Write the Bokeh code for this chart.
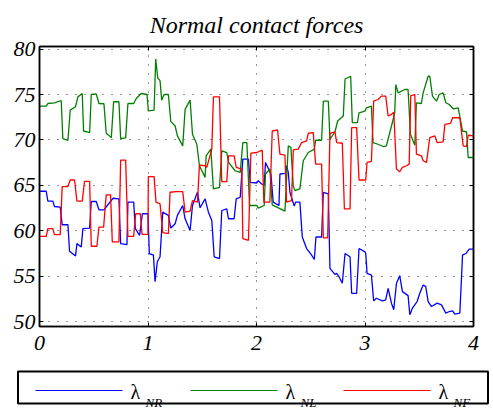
from bokeh.plotting import figure
from bokeh.models import FixedTicker, LinearAxis
from bokeh.core.properties import value
from bokeh.embed import file_html
from bokeh.resources import INLINE

# ---------------- data (time in s, force) ----------------
t_nr = [0.000, 0.062, 0.077, 0.123, 0.138, 0.191, 0.209, 0.262, 0.277, 0.332, 0.345, 0.385, 0.400, 0.462,
        0.477, 0.523, 0.548, 0.594, 0.677, 0.732, 0.748, 0.806, 0.815, 0.868, 0.883, 0.923, 0.948, 1.000,
        1.012, 1.050, 1.065, 1.086, 1.111, 1.136, 1.188, 1.210, 1.250, 1.271, 1.320, 1.342, 1.388, 1.410,
        1.456, 1.480, 1.526, 1.557, 1.588, 1.610, 1.659, 1.680, 1.726, 1.742, 1.794, 1.813, 1.850, 1.874,
        1.926, 1.942, 2.003, 2.016, 2.047, 2.071, 2.083, 2.133, 2.154, 2.207, 2.216, 2.268, 2.277, 2.293,
        2.308, 2.348, 2.360, 2.400, 2.422, 2.462, 2.508, 2.533, 2.548, 2.600, 2.616, 2.662, 2.677, 2.723,
        2.739, 2.760, 2.791, 2.816, 2.862, 2.877, 2.923, 2.945, 3.000, 3.007, 3.019, 3.059, 3.080, 3.105,
        3.160, 3.191, 3.213, 3.244, 3.265, 3.290, 3.320, 3.345, 3.397, 3.413, 3.437, 3.480, 3.505, 3.536,
        3.560, 3.582, 3.613, 3.665, 3.705, 3.745, 3.776, 3.807, 3.828, 3.874, 3.899, 3.930, 3.960, 4.000]
f_nr = [64.35, 64.35, 63.26, 63.26, 62.67, 62.60, 60.66, 60.66, 57.75, 57.23, 58.58, 58.22, 60.23, 60.30,
        63.22, 63.22, 62.31, 62.31, 63.58, 63.51, 58.58, 58.47, 63.15, 63.15, 60.23, 59.50, 61.87, 61.87,
        57.49, 57.31, 54.39, 56.58, 57.13, 62.05, 61.69, 60.30, 60.77, 61.69, 62.78, 61.32, 60.04, 62.78,
        64.24, 62.53, 63.51, 62.05, 61.14, 57.13, 56.94, 62.23, 62.42, 61.32, 61.32, 63.51, 63.69, 67.89,
        67.89, 65.34, 65.26, 65.52, 65.15, 65.04, 67.53, 66.25, 63.15, 62.78, 66.25, 66.32, 67.16, 66.43,
        64.24, 62.71, 63.15, 63.15, 59.31, 58.04, 57.31, 56.83, 59.31, 59.31, 64.24, 64.06, 55.85, 55.19,
        55.30, 54.94, 54.21, 57.49, 57.13, 53.11, 53.11, 58.04, 57.67, 57.49, 55.30, 55.12, 52.27, 52.56,
        52.27, 52.38, 53.66, 52.02, 51.29, 54.21, 55.05, 53.29, 52.85, 50.74, 51.47, 52.20, 53.11, 54.02,
        53.84, 52.20, 51.65, 52.02, 51.83, 50.92, 51.10, 51.18, 50.81, 50.92, 57.31, 57.49, 57.97, 57.97]

t_nl = [0.000, 0.062, 0.077, 0.138, 0.200, 0.215, 0.262, 0.283, 0.332, 0.354, 0.394, 0.406, 0.462, 0.477,
        0.523, 0.548, 0.594, 0.615, 0.662, 0.683, 0.732, 0.748, 0.794, 0.815, 0.868, 0.892, 0.938, 0.991,
        1.003, 1.056, 1.071, 1.090, 1.111, 1.126, 1.148, 1.188, 1.210, 1.250, 1.271, 1.320, 1.342, 1.388,
        1.410, 1.450, 1.474, 1.526, 1.536, 1.579, 1.603, 1.659, 1.680, 1.726, 1.742, 1.803, 1.850, 1.874,
        1.911, 1.936, 2.003, 2.016, 2.071, 2.083, 2.123, 2.145, 2.262, 2.293, 2.317, 2.339, 2.354, 2.400,
        2.431, 2.477, 2.533, 2.545, 2.600, 2.616, 2.662, 2.677, 2.723, 2.748, 2.800, 2.816, 2.868, 2.883,
        2.930, 2.945, 3.000, 3.013, 3.059, 3.074, 3.120, 3.167, 3.197, 3.244, 3.274, 3.284, 3.305, 3.367,
        3.397, 3.419, 3.459, 3.474, 3.520, 3.536, 3.582, 3.597, 3.622, 3.659, 3.684, 3.720, 3.745, 3.776,
        3.813, 3.859, 3.899, 3.936, 3.951, 4.000]
f_nl = [73.73, 73.73, 74.02, 74.10, 74.35, 70.15, 69.97, 73.29, 73.66, 74.75, 75.12, 70.99, 70.81, 75.01,
        75.08, 74.02, 73.99, 70.74, 70.26, 74.21, 74.21, 70.15, 70.23, 74.02, 74.02, 74.57, 75.12, 75.01,
        73.20, 73.29, 78.91, 76.83, 76.54, 74.39, 75.01, 75.01, 72.05, 71.54, 70.45, 69.35, 73.37, 74.39,
        70.63, 69.53, 67.16, 65.88, 68.26, 68.99, 64.61, 64.79, 68.80, 68.62, 67.53, 66.61, 66.43, 69.72,
        69.72, 62.78, 62.78, 62.49, 62.78, 66.25, 66.80, 62.85, 62.16, 69.35, 69.17, 64.97, 64.42, 64.61,
        67.71, 68.62, 68.99, 69.97, 69.97, 74.28, 74.28, 70.08, 70.88, 72.09, 72.64, 76.72, 77.02, 71.91,
        71.91, 73.00, 73.18, 73.55, 73.73, 69.72, 69.53, 69.28, 69.35, 71.54, 73.00, 76.10, 75.19, 75.56,
        75.56, 70.63, 69.42, 74.10, 74.02, 75.19, 77.02, 77.02, 74.83, 74.28, 75.01, 75.19, 74.10, 73.91,
        73.44, 73.55, 70.99, 70.88, 68.07, 68.07]

t_nf = [0.000, 0.062, 0.077, 0.123, 0.138, 0.191, 0.209, 0.262, 0.283, 0.323, 0.345, 0.394, 0.415, 0.462,
        0.477, 0.529, 0.548, 0.591, 0.615, 0.655, 0.671, 0.732, 0.748, 0.794, 0.815, 0.868, 0.886, 0.929,
        0.945, 1.000, 1.003, 1.056, 1.074, 1.111, 1.136, 1.188, 1.203, 1.259, 1.320, 1.342, 1.388, 1.410,
        1.456, 1.474, 1.526, 1.542, 1.588, 1.603, 1.659, 1.680, 1.726, 1.742, 1.794, 1.813, 1.865, 1.874,
        1.926, 1.948, 2.003, 2.053, 2.068, 2.123, 2.145, 2.194, 2.216, 2.262, 2.277, 2.323, 2.339, 2.385,
        2.416, 2.462, 2.477, 2.523, 2.545, 2.600, 2.616, 2.656, 2.677, 2.723, 2.739, 2.791, 2.810, 2.862,
        2.877, 2.923, 2.945, 3.007, 3.019, 3.059, 3.080, 3.120, 3.151, 3.191, 3.213, 3.244, 3.265, 3.290,
        3.320, 3.345, 3.382, 3.407, 3.422, 3.459, 3.474, 3.520, 3.536, 3.567, 3.597, 3.644, 3.665, 3.720,
        3.736, 3.788, 3.807, 3.874, 3.905, 3.936, 3.951, 4.000]
f_nf = [59.39, 59.39, 60.23, 60.23, 59.57, 59.57, 64.86, 64.86, 65.59, 65.59, 63.26, 63.26, 65.45, 65.45,
        58.29, 58.29, 60.41, 60.41, 63.95, 63.95, 58.77, 58.77, 67.78, 67.78, 59.39, 59.39, 61.87, 61.87,
        59.61, 59.61, 65.96, 65.96, 63.15, 62.96, 59.79, 59.68, 64.24, 64.31, 64.31, 62.05, 62.16, 63.33,
        63.15, 67.23, 67.16, 66.98, 68.99, 74.75, 74.75, 65.41, 65.41, 68.26, 68.26, 66.98, 66.80, 59.13,
        58.95, 68.55, 68.62, 68.88, 63.15, 63.15, 70.99, 71.10, 68.44, 68.33, 63.15, 63.33, 68.91, 68.99,
        69.72, 69.90, 70.74, 70.81, 67.34, 67.34, 59.21, 59.21, 70.74, 70.88, 69.72, 69.64, 62.42, 62.42,
        71.36, 71.36, 65.59, 65.59, 67.53, 67.64, 74.28, 74.46, 74.83, 74.83, 72.64, 72.82, 73.07, 66.80,
        66.50, 66.98, 67.16, 67.34, 74.90, 75.01, 68.44, 68.26, 67.71, 67.53, 70.26, 70.45, 69.72, 69.79,
        71.72, 71.83, 72.45, 72.45, 69.35, 69.28, 70.52, 70.45]

x_ticks = [0, 1, 2, 3, 4]
y_ticks = [50, 55, 60, 65, 70, 75, 80]
series_subscripts = ["NR", "NL", "NF"]
series_colors = ["#0000ff", "#008000", "#ff0000"]
title_text = "Normal contact forces"
bottom_text = "Friction forces without feedback"

SERIF = "Liberation Serif"
W = 493
GAP = 4                      # space the page leaves between the two stacked roots
H_PLOT, H_LEG = 362, 50
Q_TOP = H_PLOT + GAP         # page y of the legend strip's top edge

# ---------------- main plot ----------------
p = figure(width=W, height=H_PLOT, x_range=(0, 4), y_range=(49.45, 80.3),
           output_backend="svg", toolbar_location=None,
           min_border_left=39, min_border_right=20, min_border_top=44, min_border_bottom=36,
           title=title_text)
p.title.align = "center"
p.title.text_font = SERIF
p.title.text_font_style = "italic"
p.title.text_font_size = "24px"
p.title.text_color = "black"
p.title.standoff = 18

p.background_fill_color = "white"
p.border_fill_color = "white"
p.outline_line_color = "black"
p.outline_line_width = 1.5

for ax in (p.xaxis[0], p.yaxis[0]):
    ax.axis_line_width = 1.5
    ax.major_tick_in = 4
    ax.major_tick_out = 0
    ax.minor_tick_line_color = None
    ax.major_label_text_font = SERIF
    ax.major_label_text_font_style = "italic"
    ax.major_label_text_font_size = "22px"
    ax.major_label_text_color = "black"
p.xaxis[0].ticker = FixedTicker(ticks=x_ticks)
p.yaxis[0].ticker = FixedTicker(ticks=y_ticks)
p.xaxis[0].major_label_standoff = 9
p.yaxis[0].major_label_standoff = 4

# inward ticks on top and right (no labels)
top_ax = LinearAxis(ticker=FixedTicker(ticks=x_ticks), major_tick_in=4, major_tick_out=0,
                    minor_tick_line_color=None, major_label_standoff=0, axis_line_width=1.5,
                    major_label_overrides={t: "" for t in x_ticks})
right_ax = LinearAxis(ticker=FixedTicker(ticks=y_ticks), major_tick_in=4, major_tick_out=0,
                      minor_tick_line_color=None, major_label_standoff=0, axis_line_width=1.5,
                      major_label_overrides={t: "" for t in y_ticks})
p.add_layout(top_ax, "above")
p.add_layout(right_ax, "right")

p.xgrid.ticker = FixedTicker(ticks=x_ticks)
p.ygrid.ticker = FixedTicker(ticks=y_ticks)
for g in (p.xgrid[0], p.ygrid[0]):
    g.grid_line_color = "black"
    g.grid_line_alpha = 0.8
    g.grid_line_dash = "1 8"
    g.grid_line_width = 1

p.line(t_nr, f_nr, line_color=series_colors[0], line_width=1.3)
p.line(t_nl, f_nl, line_color=series_colors[1], line_width=1.3)
p.line(t_nf, f_nf, line_color=series_colors[2], line_width=1.3)

# ---------------- legend strip (own root, pixel coordinates) ----------------
q = figure(width=W, height=H_LEG, x_range=(0, W), y_range=(0, H_LEG),
           output_backend="svg", toolbar_location=None, min_border=0,
           min_border_left=0, min_border_right=0, min_border_top=0, min_border_bottom=0,
           x_axis_type=None, y_axis_type=None)
q.outline_line_color = None
q.grid.visible = False
q.background_fill_color = "white"
q.border_fill_color = "white"


def qy(page_y):
    return Q_TOP + H_LEG - page_y


q.quad(left=[17.5], right=[487.5], bottom=[qy(407)], top=[qy(375)],
       fill_color=None, line_color="black", line_width=2)

seg_px = [35, 190, 343]
for i, (sub, col) in enumerate(zip(series_subscripts, series_colors)):
    s0 = seg_px[i]
    q.line([s0, s0 + 87], [qy(394), qy(394)], line_color=col, line_width=1)
    q.text(x=[s0 + 95], y=[qy(395)], text=["λ"], text_font=value(SERIF),
           text_font_size="20px", text_baseline="alphabetic", text_align="left", text_color="black")
    q.text(x=[s0 + 110], y=[qy(406)], text=[sub], text_font=value(SERIF), text_font_style="italic",
           text_font_size="13px", text_baseline="alphabetic", text_align="left", text_color="black")

q.text(x=[266], y=[qy(429)], text=[bottom_text], text_font=value(SERIF), text_font_style="italic",
       text_font_size="24px", text_baseline="alphabetic", text_align="center", text_color="black")

open("out.html", "w").write(file_html([p, q], INLINE))
